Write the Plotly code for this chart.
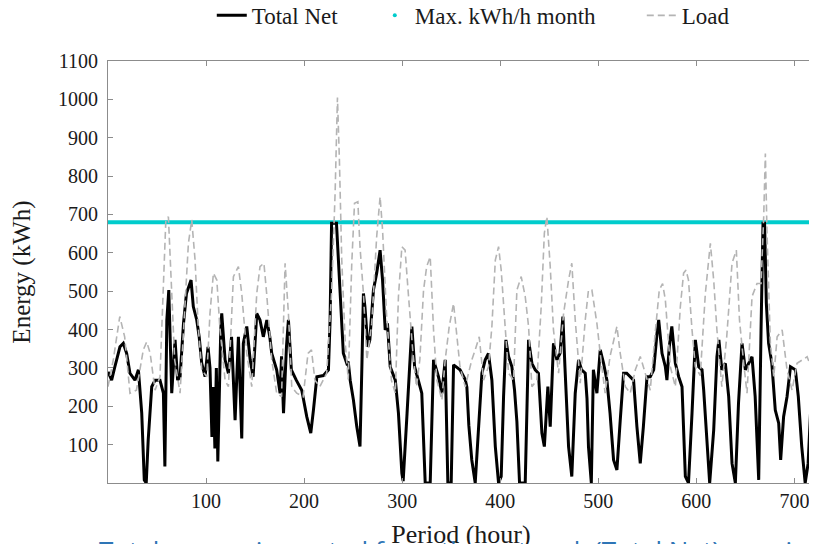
import plotly.graph_objects as go

# ---- data ----
net_hours = [0, 3.7, 7, 12.2, 15.6, 19, 22.4, 27.5, 31, 34.4, 37, 39, 41, 44.6, 48, 53, 56.5, 58, 60, 62,
             65, 68.4, 71, 73.5, 77, 80, 84.7, 87, 90.5, 93, 95.6, 99, 102, 104, 106, 107.5, 109, 110.5, 112, 113.5,
             115, 116, 119.4, 122.8, 126, 129.6, 133, 136.4, 138, 141.5, 145, 148, 151.7, 155, 158.4, 162, 165, 167, 172, 175.5,
             177, 179, 182, 184, 187, 192, 197.6, 202.7, 206.8, 209.5, 213, 219.7, 224.8, 226.5, 228, 233, 236.7, 240, 243.5, 245,
             247, 250.3, 253.7, 257, 259, 260.5, 262, 265, 267, 270.7, 274, 277.5, 280, 282.7, 285, 287.8, 293, 296.2, 299.7, 301,
             305, 309.9, 312.7, 316.6, 320, 323.5, 328.6, 332, 337, 340.5, 343.9, 346.6, 350, 352.4, 359, 364.3, 366, 368, 371, 374.5,
             377.9, 381.3, 384.7, 388, 391.5, 395, 398.3, 401, 403.4, 405.8, 408.5, 411.9, 414.6, 417, 419.7, 425.5, 428.9, 432.3, 435.7, 439,
             442.5, 445, 448.6, 451, 454.3, 457.8, 461, 463.9, 466, 469.7, 473, 476.5, 479.9, 483, 486.7, 488.5, 490, 492.9, 495, 498.6,
             502, 505.4, 508.8, 512, 515.6, 519, 522.4, 525.8, 529, 532.6, 536, 539.4, 542.8, 546, 549.7, 553, 556.5, 559.9, 561.6, 565,
             568.4, 570, 572.4, 575, 578.6, 582, 585.4, 588.8, 592, 595.6, 599, 602.4, 605.8, 607.5, 611, 613.6, 617.7, 621, 623, 626,
             629.6, 633, 636.4, 639.8, 643, 646.6, 650, 653.4, 656.8, 660, 663.6, 666, 668, 669.6, 671.4, 673.7, 677, 680.5, 684, 686,
             689, 692.5, 696, 701, 704, 707.5, 711, 714, 717.4, 720]
net_values = [290, 268, 303, 355, 364, 338, 286, 268, 295, 182, 8, 0, 112, 251, 268, 268, 234, 43, 425, 503,
              234, 373, 268, 277, 416, 494, 529, 460, 425, 381, 312, 277, 355, 300, 120, 250, 90, 300, 56, 250,
              399, 442, 321, 286, 381, 164, 381, 116, 364, 408, 321, 277, 442, 425, 381, 425, 381, 338, 295, 234,
              330, 182, 355, 425, 295, 268, 242, 173, 130, 190, 277, 280, 295, 425, 677, 677, 494, 338, 312, 316,
              268, 216, 147, 95, 312, 494, 460, 355, 373, 503, 547, 607, 529, 399, 416, 303, 268, 182, 25, 5,
              182, 408, 303, 268, 234, 0, 0, 321, 277, 234, 321, 0, 0, 308, 295, 270, 250, 150, 60, 0,
              138, 286, 321, 338, 268, 95, 0, 17, 225, 373, 330, 303, 242, 160, 0, 0, 373, 312, 295, 286,
              130, 95, 251, 147, 364, 321, 338, 434, 303, 95, 17, 234, 321, 295, 286, 220, 95, 0, 295, 234,
              347, 312, 268, 182, 60, 34, 164, 286, 286, 277, 268, 147, 51, 147, 277, 277, 295, 390, 425, 338,
              303, 268, 355, 408, 312, 277, 251, 17, 0, 182, 373, 303, 295, 242, 95, 0, 138, 329, 373, 295,
              312, 225, 51, 0, 208, 364, 295, 312, 329, 225, 8, 399, 677, 677, 468, 364, 312, 190, 156, 60,
              173, 225, 303, 295, 225, 95, 0, 51, 234, 290]

load_hours = [0, 5.4, 12, 17, 22.4, 29, 36, 39.5, 43, 48, 53, 56.5, 59, 61.6, 65, 68, 73.5, 78.6, 82, 85.4,
              88.8, 92, 95.6, 100.7, 104, 107.5, 111, 114, 119.4, 122.8, 127.9, 133, 136.4, 141.5, 146.6, 151.7, 155, 159, 161.8, 167,
              172, 177, 180.6, 184, 187.4, 192.5, 199, 204, 207.5, 211, 216, 223, 228, 231.6, 234, 236, 238.4, 242, 245, 248.6,
              251.4, 254.8, 257, 260.5, 264, 269, 274, 277.5, 280, 284, 289, 293, 296.2, 299.7, 303, 306, 311, 314.6, 318, 321.8,
              325, 328.6, 332, 335.4, 340.5, 343.9, 348, 352.4, 355.8, 359, 364.3, 371, 374.5, 378.6, 383, 388, 391.5, 395, 398.3, 401,
              405, 408.5, 413.6, 417, 421.4, 425.5, 428.9, 432.3, 437.4, 441.8, 445, 447.6, 451, 454.3, 459.5, 464.6, 469.7, 473, 476.5, 481.6,
              486.7, 490, 493.5, 498.6, 502, 507, 512, 515.6, 519, 522.4, 527.6, 532.6, 537.8, 542.8, 548, 553, 558, 562.2, 565.6, 568.4,
              573.5, 578.6, 583.7, 587, 589.5, 592, 595.6, 599, 604, 609.2, 614.3, 617.7, 621, 626, 631, 636.4, 640.8, 644, 648.3, 651.7,
              656.8, 661.9, 666, 668.7, 670.4, 672, 675.5, 679, 682.4, 687.5, 692.5, 697.6, 702.7, 707.8, 713, 718, 720]
load_values = [251, 321, 434, 381, 234, 242, 347, 368, 338, 242, 277, 494, 686, 694, 494, 321, 234, 451, 625, 686,
               581, 408, 295, 277, 442, 547, 529, 408, 268, 251, 538, 564, 494, 338, 251, 494, 564, 573, 494, 321,
               234, 225, 573, 442, 251, 234, 225, 338, 347, 268, 251, 286, 494, 755, 1005, 842, 581, 364, 270, 573,
               729, 733, 616, 494, 321, 416, 642, 746, 660, 442, 268, 234, 486, 616, 607, 503, 338, 251, 321, 503,
               564, 590, 399, 268, 216, 321, 408, 468, 390, 303, 251, 321, 347, 381, 268, 303, 408, 581, 616, 555,
               408, 286, 268, 503, 538, 486, 408, 251, 268, 460, 651, 694, 564, 399, 286, 442, 529, 573, 425, 260,
               425, 503, 503, 416, 338, 234, 330, 373, 408, 338, 251, 234, 295, 330, 286, 242, 390, 503, 520, 477,
               303, 251, 460, 547, 555, 529, 399, 303, 280, 494, 625, 529, 399, 251, 381, 573, 607, 425, 312, 234,
               486, 520, 520, 694, 859, 660, 364, 277, 381, 399, 295, 242, 312, 321, 329, 295, 286]

max_kwh_month = 680
period_range = [0, 720]

x_tick_vals = [100, 200, 300, 400, 500, 600, 700]
y_tick_vals = [100, 200, 300, 400, 500, 600, 700, 800, 900, 1000, 1100]

series_names = ["Total Net", "Max. kWh/h month", "Load"]
caption = "Total energy imported from the network (Total Net), maximum"

# ---- styles ----
CYAN = "#00CCCC"
GRAY = "#B4B4B4"
AXIS = "#8C8C8C"
SERIF = "Liberation Serif"

fig = go.Figure()

# horizontal max line (not in legend; legend shows a dot)
fig.add_trace(go.Scatter(x=period_range, y=[max_kwh_month, max_kwh_month], mode="lines",
                         line=dict(color=CYAN, width=4), showlegend=False, hoverinfo="skip"))

fig.add_trace(go.Scatter(x=net_hours, y=net_values, mode="lines", name=series_names[0],
                         line=dict(color="black", width=3), legendwidth=118))

fig.add_trace(go.Scatter(x=[None], y=[None], mode="markers", name=series_names[1],
                         marker=dict(color=CYAN, size=4), legendwidth=222))

fig.add_trace(go.Scatter(x=load_hours, y=load_values, mode="lines", name=series_names[2],
                         line=dict(color=GRAY, width=1.6, dash="7px,4px")))

# the page body adds an 8 px offset, so margins are set to put the plot box where the reference has it
fig.update_layout(
    width=817, height=544,
    margin=dict(l=100, r=11, t=53, b=69, autoexpand=False),
    paper_bgcolor="white", plot_bgcolor="white",
    font=dict(family=SERIF, color="#1a1a1a", size=20),
    showlegend=True,
    legend=dict(orientation="h", x=0.147, xanchor="left", y=1.108, yanchor="middle",
                font=dict(family=SERIF, size=23, color="#1a1a1a"),
                bgcolor="rgba(0,0,0,0)", tracegroupgap=0),
    xaxis=dict(range=period_range, tickvals=x_tick_vals, ticks="inside", ticklen=5,
               tickcolor=AXIS, showline=True, linecolor=AXIS, linewidth=1, mirror="ticks",
               showgrid=False, zeroline=False, tickfont=dict(family=SERIF, size=20), automargin=False,
               title=dict(text="Period (hour)", font=dict(family=SERIF, size=26), standoff=13)),
    yaxis=dict(range=[0, 1100], tickvals=y_tick_vals, ticks="inside", ticklen=5,
               tickcolor=AXIS, showline=True, linecolor=AXIS, linewidth=1, mirror="ticks",
               showgrid=False, zeroline=False, tickfont=dict(family=SERIF, size=20), automargin=False,
               ticklabelstandoff=5,
               title=dict(text="Energy (kWh)", font=dict(family=SERIF, size=25), standoff=22)),
    annotations=[dict(text=caption, xref="paper", yref="paper", x=-0.016, xanchor="left",
                      y=-0.111, yanchor="top", showarrow=False,
                      font=dict(family="Open Sans, Noto Sans, sans-serif", size=26, color="#2E75B6"))],
)

fig.write_html("out.html")
